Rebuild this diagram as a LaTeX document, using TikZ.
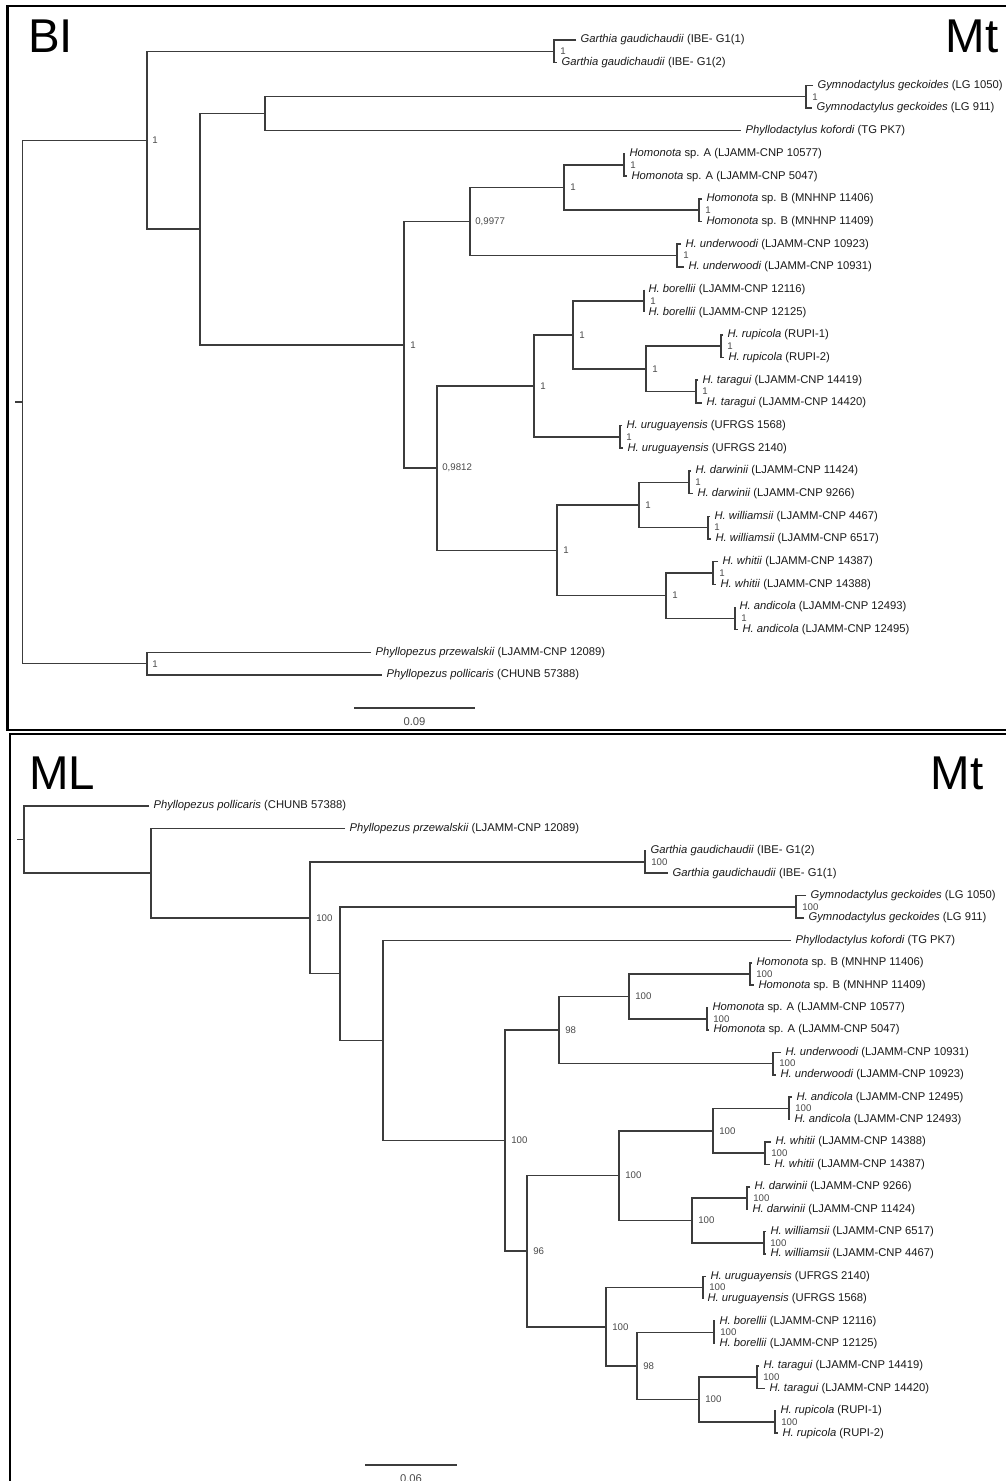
\documentclass[tikz,border=0pt]{standalone}
\usepackage{fontspec}
\setmainfont{Liberation Sans}
\definecolor{treeline}{HTML}{3C3C3C}
\definecolor{labtext}{HTML}{1A1A1A}
\definecolor{suptext}{HTML}{4A4A4A}
\newcommand\mkclade[3]{\draw[br] (#2) -| (#1) |- (#3);}
\begin{document}
\begin{tikzpicture}[x=0.02cm,y=-0.02cm,
  br/.style={draw=treeline,line width=0.85pt},
  leaf/.style={anchor=west,inner xsep=2.6pt,inner ysep=0pt,outer sep=0pt,font=\fontsize{6.4}{7}\selectfont,text=labtext},
  sup/.style={anchor=west,inner sep=0pt,font=\fontsize{5.5}{6}\selectfont,text=suptext},
  scl/.style={inner sep=0pt,font=\fontsize{6.4}{7}\selectfont,text=suptext},
  big/.style={font=\fontsize{27}{28}\selectfont,inner sep=0pt},
  frame/.style={draw=black,line width=1.2pt}]
\useasboundingbox (0,0) rectangle (1005,1481);
\fill[white] (0,0) rectangle (1005,1481);
% frames
\draw[frame] (1015,6) -- (7.5,6) -- (7.5,730) -- (1015,730);
\draw[frame] (1015,734) -- (10,734) -- (10,1495);
% titles
\node[big,anchor=base west] (tBI) at (28,52) {BI};
\node[big,anchor=base east] (tMt1) at (999,52) {Mt};
\node[big,anchor=base west] (tML) at (29,789) {ML};
\node[big,anchor=base east] (tMt2) at (984,789) {Mt};

% ================= TOP TREE (BI) =================
\node[leaf] (a1) at (576,40.0) {\textit{Garthia gaudichaudii} (IBE- G1(1)};
\node[leaf] (a2) at (557,62.7) {\textit{Garthia gaudichaudii} (IBE- G1(2)};
\node[leaf] (a3) at (813,85.4) {\textit{Gymnodactylus geckoides} (LG 1050)};
\node[leaf] (a4) at (812,108.0) {\textit{Gymnodactylus geckoides} (LG 911)};
\node[leaf] (a5) at (741,130.7) {\textit{Phyllodactylus kofordi} (TG PK7)};
\node[leaf] (a6) at (625,153.4) {\textit{Homonota} sp. A (LJAMM-CNP 10577)};
\node[leaf] (a7) at (627,176.1) {\textit{Homonota} sp. A (LJAMM-CNP 5047)};
\node[leaf] (a8) at (702,198.8) {\textit{Homonota} sp. B (MNHNP 11406)};
\node[leaf] (a9) at (702,221.4) {\textit{Homonota} sp. B (MNHNP 11409)};
\node[leaf] (a10) at (681,244.1) {\textit{H. underwoodi} (LJAMM-CNP 10923)};
\node[leaf] (a11) at (684,266.8) {\textit{H. underwoodi} (LJAMM-CNP 10931)};
\node[leaf] (a12) at (644,289.5) {\textit{H. borellii} (LJAMM-CNP 12116)};
\node[leaf] (a13) at (644,312.2) {\textit{H. borellii} (LJAMM-CNP 12125)};
\node[leaf] (a14) at (723,334.8) {\textit{H. rupicola} (RUPI-1)};
\node[leaf] (a15) at (724,357.5) {\textit{H. rupicola} (RUPI-2)};
\node[leaf] (a16) at (698,380.2) {\textit{H. taragui} (LJAMM-CNP 14419)};
\node[leaf] (a17) at (702,402.9) {\textit{H. taragui} (LJAMM-CNP 14420)};
\node[leaf] (a18) at (622,425.6) {\textit{H. uruguayensis} (UFRGS 1568)};
\node[leaf] (a19) at (623,448.2) {\textit{H. uruguayensis} (UFRGS 2140)};
\node[leaf] (a20) at (691,470.9) {\textit{H. darwinii} (LJAMM-CNP 11424)};
\node[leaf] (a21) at (693,493.6) {\textit{H. darwinii} (LJAMM-CNP 9266)};
\node[leaf] (a22) at (710,516.3) {\textit{H. williamsii} (LJAMM-CNP 4467)};
\node[leaf] (a23) at (711,539.0) {\textit{H. williamsii} (LJAMM-CNP 6517)};
\node[leaf] (a24) at (718,561.6) {\textit{H. whitii} (LJAMM-CNP 14387)};
\node[leaf] (a25) at (716,584.3) {\textit{H. whitii} (LJAMM-CNP 14388)};
\node[leaf] (a26) at (735,607.0) {\textit{H. andicola} (LJAMM-CNP 12493)};
\node[leaf] (a27) at (738,629.7) {\textit{H. andicola} (LJAMM-CNP 12495)};
\node[leaf] (a28) at (371,652.4) {\textit{Phyllopezus przewalskii} (LJAMM-CNP 12089)};
\node[leaf] (a29) at (382,675.0) {\textit{Phyllopezus pollicaris} (CHUNB 57388)};

\coordinate (ag) at (554,51.35);
\coordinate (agy) at (806,96.7);
\coordinate (ac) at (265,113.7);
\coordinate (aha) at (624,164.75);
\coordinate (ahb) at (699,210.1);
\coordinate (af) at (564,187.4);
\coordinate (aun) at (677,255.45);
\coordinate (ae) at (470,221.4);
\coordinate (abo) at (644,300.85);
\coordinate (aru) at (721,346.15);
\coordinate (ata) at (696,391.55);
\coordinate (aj) at (646,368.85);
\coordinate (ai) at (573,334.85);
\coordinate (aur) at (620,436.9);
\coordinate (ah) at (534,385.9);
\coordinate (ada) at (689,482.25);
\coordinate (awi) at (708,527.65);
\coordinate (al) at (639,504.95);
\coordinate (awh) at (713,572.95);
\coordinate (aan) at (735,618.35);
\coordinate (am) at (666,595.65);
\coordinate (ak) at (557,550.3);
\coordinate (agg) at (437,468.1);
\coordinate (ad) at (404,344.75);
\coordinate (ab) at (200,229.2);
\coordinate (aa) at (147,140.3);
\coordinate (aph) at (147,663.7);
\coordinate (aroot) at (22.7,402);
\coordinate (atick) at (15,402);

\draw[br] (atick) -- (aroot);
\mkclade{aroot}{aa}{aph}
\mkclade{aa}{ag}{ab}
\mkclade{ag}{a1.west}{a2.west}
\mkclade{ab}{ac}{ad}
\mkclade{ac}{agy}{a5.west}
\mkclade{agy}{a3.west}{a4.west}
\mkclade{ad}{ae}{agg}
\mkclade{ae}{af}{aun}
\mkclade{af}{aha}{ahb}
\mkclade{aha}{a6.west}{a7.west}
\mkclade{ahb}{a8.west}{a9.west}
\mkclade{aun}{a10.west}{a11.west}
\mkclade{agg}{ah}{ak}
\mkclade{ah}{ai}{aur}
\mkclade{ai}{abo}{aj}
\mkclade{abo}{a12.west}{a13.west}
\mkclade{aj}{aru}{ata}
\mkclade{aru}{a14.west}{a15.west}
\mkclade{ata}{a16.west}{a17.west}
\mkclade{aur}{a18.west}{a19.west}
\mkclade{ak}{al}{am}
\mkclade{al}{ada}{awi}
\mkclade{ada}{a20.west}{a21.west}
\mkclade{awi}{a22.west}{a23.west}
\mkclade{am}{awh}{aan}
\mkclade{awh}{a24.west}{a25.west}
\mkclade{aan}{a26.west}{a27.west}
\mkclade{aph}{a28.west}{a29.west}

\node[sup] (sa) at (152,140.3) {1};
\node[sup] (sph) at (152,663.7) {1};
\node[sup] (sd) at (410,344.75) {1};
\node[sup] (se) at (475,221.4) {0,9977};
\node[sup] (sf) at (570,187.4) {1};
\node[sup] (sgg) at (442,468.1) {0,9812};
\node[sup] (sh) at (540,385.9) {1};
\node[sup] (si) at (579,334.85) {1};
\node[sup] (sj) at (652,368.85) {1};
\node[sup] (sk) at (563,550.3) {1};
\node[sup] (sl) at (645,504.95) {1};
\node[sup] (sm) at (672,595.65) {1};
\node[sup] (sag) at (560,51.35) {1};
\node[sup] (sagy) at (812,96.7) {1};
\node[sup] (saha) at (630,164.75) {1};
\node[sup] (sahb) at (705,210.1) {1};
\node[sup] (saun) at (683,255.45) {1};
\node[sup] (sabo) at (650,300.85) {1};
\node[sup] (saru) at (727,346.15) {1};
\node[sup] (sata) at (702,391.55) {1};
\node[sup] (saur) at (626,436.9) {1};
\node[sup] (sada) at (695,482.25) {1};
\node[sup] (sawi) at (714,527.65) {1};
\node[sup] (sawh) at (719,572.95) {1};
\node[sup] (saan) at (741,618.35) {1};

\coordinate (sba) at (354,708);
\coordinate (sbb) at (475,708);
\draw[br] (sba) -- (sbb);
\node[scl] (sbl1) at (414.5,722) {0.09};

% ================= BOTTOM TREE (ML) =================
\node[leaf] (b1) at (149,806.0) {\textit{Phyllopezus pollicaris} (CHUNB 57388)};
\node[leaf] (b2) at (345,828.4) {\textit{Phyllopezus przewalskii} (LJAMM-CNP 12089)};
\node[leaf] (b3) at (646,850.8) {\textit{Garthia gaudichaudii} (IBE- G1(2)};
\node[leaf] (b4) at (668,873.2) {\textit{Garthia gaudichaudii} (IBE- G1(1)};
\node[leaf] (b5) at (806,895.6) {\textit{Gymnodactylus geckoides} (LG 1050)};
\node[leaf] (b6) at (804,918.0) {\textit{Gymnodactylus geckoides} (LG 911)};
\node[leaf] (b7) at (791,940.4) {\textit{Phyllodactylus kofordi} (TG PK7)};
\node[leaf] (b8) at (752,962.8) {\textit{Homonota} sp. B (MNHNP 11406)};
\node[leaf] (b9) at (754,985.2) {\textit{Homonota} sp. B (MNHNP 11409)};
\node[leaf] (b10) at (708,1007.6) {\textit{Homonota} sp. A (LJAMM-CNP 10577)};
\node[leaf] (b11) at (709,1030.0) {\textit{Homonota} sp. A (LJAMM-CNP 5047)};
\node[leaf] (b12) at (781,1052.4) {\textit{H. underwoodi} (LJAMM-CNP 10931)};
\node[leaf] (b13) at (776,1074.8) {\textit{H. underwoodi} (LJAMM-CNP 10923)};
\node[leaf] (b14) at (792,1097.2) {\textit{H. andicola} (LJAMM-CNP 12495)};
\node[leaf] (b15) at (790,1119.6) {\textit{H. andicola} (LJAMM-CNP 12493)};
\node[leaf] (b16) at (771,1142.0) {\textit{H. whitii} (LJAMM-CNP 14388)};
\node[leaf] (b17) at (770,1164.4) {\textit{H. whitii} (LJAMM-CNP 14387)};
\node[leaf] (b18) at (750,1186.8) {\textit{H. darwinii} (LJAMM-CNP 9266)};
\node[leaf] (b19) at (748,1209.2) {\textit{H. darwinii} (LJAMM-CNP 11424)};
\node[leaf] (b20) at (766,1231.6) {\textit{H. williamsii} (LJAMM-CNP 6517)};
\node[leaf] (b21) at (766,1254.0) {\textit{H. williamsii} (LJAMM-CNP 4467)};
\node[leaf] (b22) at (706,1276.4) {\textit{H. uruguayensis} (UFRGS 2140)};
\node[leaf] (b23) at (703,1298.8) {\textit{H. uruguayensis} (UFRGS 1568)};
\node[leaf] (b24) at (715,1321.2) {\textit{H. borellii} (LJAMM-CNP 12116)};
\node[leaf] (b25) at (715,1343.6) {\textit{H. borellii} (LJAMM-CNP 12125)};
\node[leaf] (b26) at (759,1366.0) {\textit{H. taragui} (LJAMM-CNP 14419)};
\node[leaf] (b27) at (765,1388.4) {\textit{H. taragui} (LJAMM-CNP 14420)};
\node[leaf] (b28) at (776,1410.8) {\textit{H. rupicola} (RUPI-1)};
\node[leaf] (b29) at (778,1433.2) {\textit{H. rupicola} (RUPI-2)};

\coordinate (bgar) at (645,862);
\coordinate (bgym) at (796,906.8);
\coordinate (bhb) at (750,974);
\coordinate (bha) at (707,1018.8);
\coordinate (bn8) at (629,996.4);
\coordinate (bund) at (773,1063.6);
\coordinate (bn6) at (559,1030);
\coordinate (band) at (789,1108.4);
\coordinate (bwhi) at (765,1153.2);
\coordinate (bn10) at (713,1130.8);
\coordinate (bdar) at (747,1198);
\coordinate (bwil) at (764,1242.8);
\coordinate (bn11) at (692,1220.4);
\coordinate (bn9) at (619,1175.6);
\coordinate (buru) at (703,1287.6);
\coordinate (bbor) at (714,1332.4);
\coordinate (btar) at (757,1377.2);
\coordinate (brup) at (775,1422);
\coordinate (bn14) at (699,1399.6);
\coordinate (bn13) at (637,1366);
\coordinate (bn12) at (606,1326.8);
\coordinate (bn7) at (527,1251.2);
\coordinate (bn5) at (505,1140.6);
\coordinate (bn4) at (383,1040.5);
\coordinate (bn3) at (340,973.65);
\coordinate (bn2) at (310,917.8);
\coordinate (bn1) at (151,873.1);
\coordinate (broot) at (24,839.55);
\coordinate (btick) at (17,839.55);

\draw[br] (btick) -- (broot);
\mkclade{broot}{b1.west}{bn1}
\mkclade{bn1}{b2.west}{bn2}
\mkclade{bn2}{bgar}{bn3}
\mkclade{bgar}{b3.west}{b4.west}
\mkclade{bn3}{bgym}{bn4}
\mkclade{bgym}{b5.west}{b6.west}
\mkclade{bn4}{b7.west}{bn5}
\mkclade{bn5}{bn6}{bn7}
\mkclade{bn6}{bn8}{bund}
\mkclade{bn8}{bhb}{bha}
\mkclade{bhb}{b8.west}{b9.west}
\mkclade{bha}{b10.west}{b11.west}
\mkclade{bund}{b12.west}{b13.west}
\mkclade{bn7}{bn9}{bn12}
\mkclade{bn9}{bn10}{bn11}
\mkclade{bn10}{band}{bwhi}
\mkclade{band}{b14.west}{b15.west}
\mkclade{bwhi}{b16.west}{b17.west}
\mkclade{bn11}{bdar}{bwil}
\mkclade{bdar}{b18.west}{b19.west}
\mkclade{bwil}{b20.west}{b21.west}
\mkclade{bn12}{buru}{bn13}
\mkclade{buru}{b22.west}{b23.west}
\mkclade{bn13}{bbor}{bn14}
\mkclade{bbor}{b24.west}{b25.west}
\mkclade{bn14}{btar}{brup}
\mkclade{btar}{b26.west}{b27.west}
\mkclade{brup}{b28.west}{b29.west}

\node[sup] (tn2) at (316,917.8) {100};
\node[sup] (tn5) at (511,1140.6) {100};
\node[sup] (tn6) at (565,1030) {98};
\node[sup] (tn8) at (635,996.4) {100};
\node[sup] (tn7) at (533,1251.2) {96};
\node[sup] (tn9) at (625,1175.6) {100};
\node[sup] (tn10) at (719,1130.8) {100};
\node[sup] (tn11) at (698,1220.4) {100};
\node[sup] (tn12) at (612,1326.8) {100};
\node[sup] (tn13) at (643,1366) {98};
\node[sup] (tn14) at (705,1399.6) {100};
\node[sup] (tgar) at (651,862) {100};
\node[sup] (tgym) at (802,906.8) {100};
\node[sup] (thb) at (756,974) {100};
\node[sup] (tha) at (713,1018.8) {100};
\node[sup] (tund) at (779,1063.6) {100};
\node[sup] (tand) at (795,1108.4) {100};
\node[sup] (twhi) at (771,1153.2) {100};
\node[sup] (tdar) at (753,1198) {100};
\node[sup] (twil) at (770,1242.8) {100};
\node[sup] (turu) at (709,1287.6) {100};
\node[sup] (tbor) at (720,1332.4) {100};
\node[sup] (ttar) at (763,1377.2) {100};
\node[sup] (trup) at (781,1422) {100};

\coordinate (sbc) at (365,1465);
\coordinate (sbd) at (457,1465);
\draw[br] (sbc) -- (sbd);
\node[scl] (sbl2) at (411,1479) {0.06};
\end{tikzpicture}
\end{document}
